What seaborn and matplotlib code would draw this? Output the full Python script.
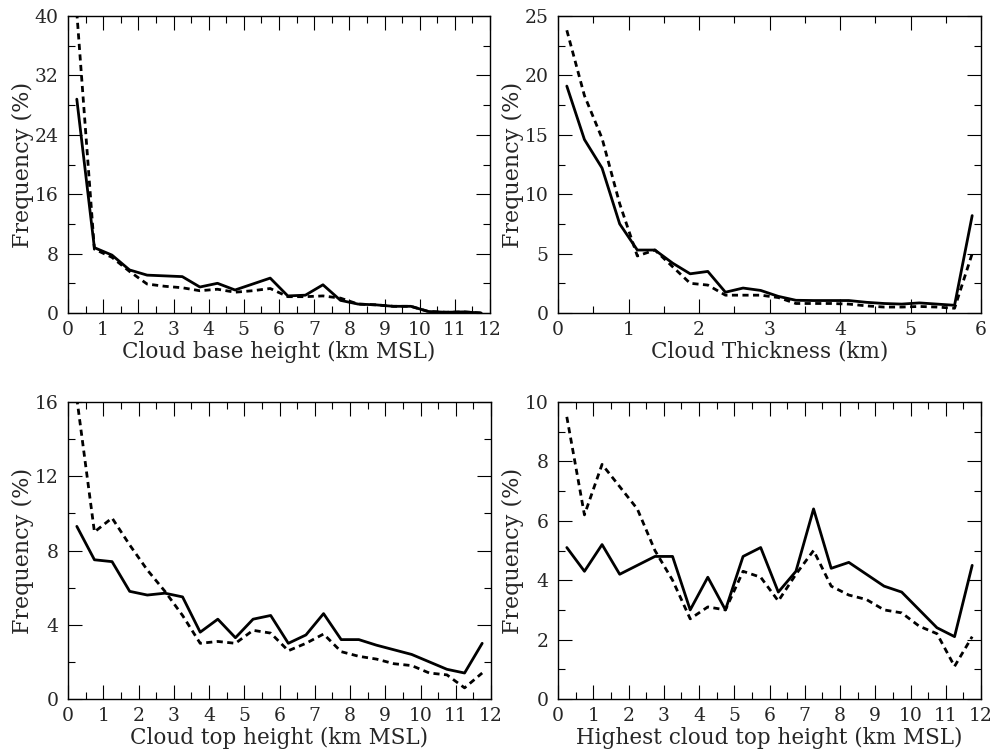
import numpy as np
import pandas as pd
import matplotlib
matplotlib.use("Agg")
import matplotlib.pyplot as plt
from matplotlib.ticker import MultipleLocator
import seaborn as sns

# ---- data ----
x_height = [0.25, 0.75, 1.25, 1.75, 2.25, 2.75, 3.25, 3.75, 4.25, 4.75, 5.25, 5.75,
            6.25, 6.75, 7.25, 7.75, 8.25, 8.75, 9.25, 9.75, 10.25, 10.75, 11.25, 11.75]
x_thick = [0.125, 0.375, 0.625, 0.875, 1.125, 1.375, 1.625, 1.875, 2.125, 2.375, 2.625, 2.875,
           3.125, 3.375, 3.625, 3.875, 4.125, 4.375, 4.625, 4.875, 5.125, 5.375, 5.625, 5.875]

base_solid = [28.8, 8.8, 7.8, 5.8, 5.1, 5.0, 4.9, 3.5, 4.0, 3.1, 3.9, 4.7,
              2.3, 2.4, 3.8, 1.7, 1.2, 1.1, 0.9, 0.9, 0.2, 0.1, 0.15, 0.0]
base_dash = [40.5, 8.6, 7.5, 5.6, 3.9, 3.6, 3.4, 3.0, 3.2, 2.8, 3.0, 3.3,
             2.2, 2.2, 2.3, 2.0, 1.2, 1.1, 0.9, 0.9, 0.2, 0.1, 0.15, 0.0]

thick_solid = [19.1, 14.6, 12.2, 7.5, 5.3, 5.3, 4.2, 3.3, 3.5, 1.75, 2.1, 1.9,
               1.4, 1.07, 1.05, 1.05, 1.05, 0.9, 0.8, 0.75, 0.85, 0.75, 0.65, 8.2]
thick_dash = [23.8, 18.3, 14.7, 9.2, 4.8, 5.3, 3.9, 2.5, 2.35, 1.5, 1.5, 1.5,
              1.3, 0.8, 0.8, 0.8, 0.75, 0.6, 0.5, 0.5, 0.55, 0.5, 0.4, 5.0]

top_solid = [9.3, 7.5, 7.4, 5.8, 5.6, 5.7, 5.5, 3.6, 4.3, 3.3, 4.3, 4.5,
             3.0, 3.45, 4.6, 3.2, 3.2, 2.9, 2.65, 2.4, 2.0, 1.6, 1.4, 3.0]
top_dash = [16.2, 9.0, 9.75, 8.3, 6.95, 5.8, 4.5, 3.0, 3.1, 3.0, 3.7, 3.55,
            2.6, 3.0, 3.5, 2.55, 2.3, 2.15, 1.9, 1.8, 1.4, 1.3, 0.6, 1.4]

high_solid = [5.1, 4.3, 5.2, 4.2, 4.5, 4.8, 4.8, 3.0, 4.1, 3.0, 4.8, 5.1,
              3.6, 4.3, 6.4, 4.4, 4.6, 4.2, 3.8, 3.6, 3.0, 2.4, 2.1, 4.5]
high_dash = [9.5, 6.2, 7.9, 7.15, 6.4, 5.0, 4.0, 2.7, 3.1, 3.0, 4.3, 4.1,
             3.3, 4.2, 5.0, 3.8, 3.5, 3.35, 3.0, 2.9, 2.45, 2.2, 1.1, 2.1]

xlabels = ["Cloud base height (km MSL)", "Cloud Thickness (km)",
           "Cloud top height (km MSL)", "Highest cloud top height (km MSL)"]
ylabel = "Frequency (%)"

panels = [
    (x_height, base_solid, base_dash, 12, 40, 8, 4),
    (x_thick, thick_solid, thick_dash, 6, 25, 5, 2.5),
    (x_height, top_solid, top_dash, 12, 16, 4, 2),
    (x_height, high_solid, high_dash, 12, 10, 2, 1),
]

sns.set_style("white")
plt.rcParams['font.family'] = ['DejaVu Serif']
plt.rcParams['mathtext.fontset'] = 'dejavuserif'

W, H = 997, 753
fig = plt.figure(figsize=(W / 100, H / 100), dpi=100)
rects = [
    (68 / W, 1 - 313 / H, 422 / W, 297 / H),
    (558 / W, 1 - 313 / H, 423 / W, 297 / H),
    (68 / W, 1 - 699 / H, 423 / W, 297 / H),
    (558 / W, 1 - 699 / H, 423 / W, 297 / H),
]

for i, (rect, (xs, ys, yd, xmax, ymax, ymaj, ymin)) in enumerate(zip(rects, panels)):
    ax = fig.add_axes(rect)
    df = pd.DataFrame({"x": xs + xs,
                       "y": ys + yd,
                       "kind": ["solid"] * len(xs) + ["dash"] * len(xs)})
    sns.lineplot(data=df[df.kind == "solid"], x="x", y="y", ax=ax,
                 color="black", lw=2.0, estimator=None, sort=False)
    sns.lineplot(data=df[df.kind == "dash"], x="x", y="y", ax=ax,
                 color="black", lw=2.0, estimator=None, sort=False,
                 linestyle=(0, (2.2, 1.6)))
    ax.set_xlim(0, xmax)
    ax.set_ylim(0, ymax)
    ax.xaxis.set_major_locator(MultipleLocator(1))
    ax.xaxis.set_minor_locator(MultipleLocator(0.5))
    ax.yaxis.set_major_locator(MultipleLocator(ymaj))
    ax.yaxis.set_minor_locator(MultipleLocator(ymin))
    ax.tick_params(which="both", direction="in", top=True, right=True,
                   bottom=True, left=True, color="black", width=0.8,
                   labelsize=13.5)
    ax.tick_params(axis="x", which="both", pad=6)
    ax.tick_params(axis="y", which="both", pad=7)
    ax.tick_params(which="major", length=10)
    ax.tick_params(which="minor", length=5)
    for sp in ax.spines.values():
        sp.set_color("black")
        sp.set_linewidth(1.0)
    ax.set_xlabel(xlabels[i], fontsize=15.5)
    ax.set_ylabel(ylabel, fontsize=16)
    ax.yaxis.set_label_coords(-0.08, 0.5)
    ax.xaxis.set_label_coords(0.5, -0.094)
    if ax.legend_:
        ax.legend_.remove()

fig.savefig("out.png", dpi=100, facecolor="white")
